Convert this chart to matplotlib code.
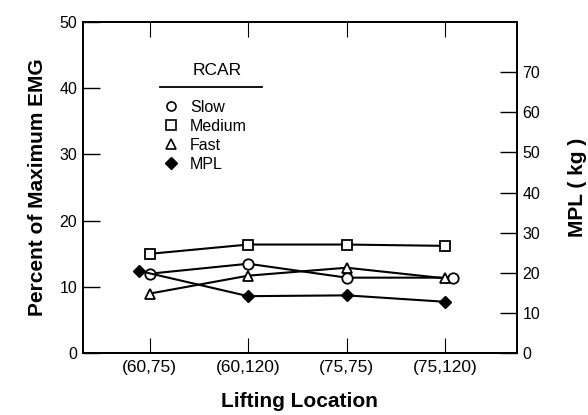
import matplotlib.pyplot as plt
from matplotlib.lines import Line2D

# Data
locations = ['(60,75)', '(60,120)', '(75,75)', '(75,120)']
slow = [12.0, 13.5, 11.4, 11.4]      # % max EMG
medium = [15.0, 16.4, 16.4, 16.2]
fast = [9.0, 11.7, 12.9, 11.3]
mpl_kg = [20.5, 14.2, 14.4, 12.8]    # right axis, kg

left_ticks = [0, 10, 20, 30, 40, 50]
right_ticks = [0, 10, 20, 30, 40, 50, 60, 70]

# small horizontal nudges so overlapping symbols stay visible
slow_shift = [0, 0, 0, 0.08]
mpl_shift = [-0.11, 0, 0, 0]

plt.rcParams['font.family'] = ['Liberation Sans', 'DejaVu Sans']

fig = plt.figure(figsize=(5.88, 4.15), dpi=100)
ax = fig.add_axes([0.141, 0.149, 0.738, 0.798])
ax2 = ax.twinx()

pos = list(range(len(locations)))
lw = 1.5
ms = 7

ax.plot(pos, medium, color='black', lw=lw, marker='s', ms=ms,
        mfc='white', mec='black', mew=1.3)
ax.plot([p + s for p, s in zip(pos, slow_shift)], slow, color='black', lw=lw,
        marker='o', ms=ms + 0.5, mfc='white', mec='black', mew=1.3)
ax.plot(pos, fast, color='black', lw=lw, marker='^', ms=ms + 0.5,
        mfc='white', mec='black', mew=1.3)
ax2.plot([p + s for p, s in zip(pos, mpl_shift)], mpl_kg, color='black', lw=lw,
         marker='D', ms=ms - 0.5, mfc='black', mec='black')

ax.set_xlim(-0.68, 3.73)
ax.set_ylim(0, 50)
ax2.set_ylim(0, 82.5)

ax.set_xticks(pos)
ax.set_xticklabels(locations, fontsize=12.5)
ax.set_yticks(left_ticks)
ax.set_yticklabels([str(t) for t in left_ticks], fontsize=11.5)
ax2.set_yticks(right_ticks)
ax2.set_yticklabels([str(t) for t in right_ticks], fontsize=11.5)

ax.tick_params(axis='x', direction='in', length=11, width=0.8, top=True, pad=5)
ax.tick_params(axis='y', direction='in', length=12, width=1.0, pad=4)
ax2.tick_params(axis='y', direction='in', length=12, width=1.0, pad=4)

for a in (ax, ax2):
    for sp in a.spines.values():
        sp.set_linewidth(1.3)

ax.set_xlabel('Lifting Location', fontsize=15, fontweight='bold', labelpad=12)
ax.set_ylabel('Percent of Maximum EMG', fontsize=15, fontweight='bold', labelpad=9)
ax2.set_ylabel('MPL ( kg )', fontsize=15, fontweight='bold', labelpad=20)

handles = [
    Line2D([], [], ls='none', marker='o', ms=6.5, mfc='white', mec='black', mew=1.2),
    Line2D([], [], ls='none', marker='s', ms=6.5, mfc='white', mec='black', mew=1.2),
    Line2D([], [], ls='none', marker='^', ms=6.5, mfc='white', mec='black', mew=1.2),
    Line2D([], [], ls='none', marker='D', ms=6, mfc='black', mec='black'),
]
ax.legend(handles, ['Slow', 'Medium', 'Fast', 'MPL'],
          loc='upper left', bbox_to_anchor=(0.17, 0.785), frameon=False,
          fontsize=11.5, handlelength=1.0, handletextpad=0.7,
          labelspacing=0.25, borderaxespad=0)
ax.text(0.31, 0.855, 'RCAR', transform=ax.transAxes, ha='center', va='center',
        fontsize=12.5)
ax.plot([0.177, 0.412], [0.805, 0.805], transform=ax.transAxes,
        color='black', lw=1.3, clip_on=False)

fig.savefig('out.png', dpi=100)
